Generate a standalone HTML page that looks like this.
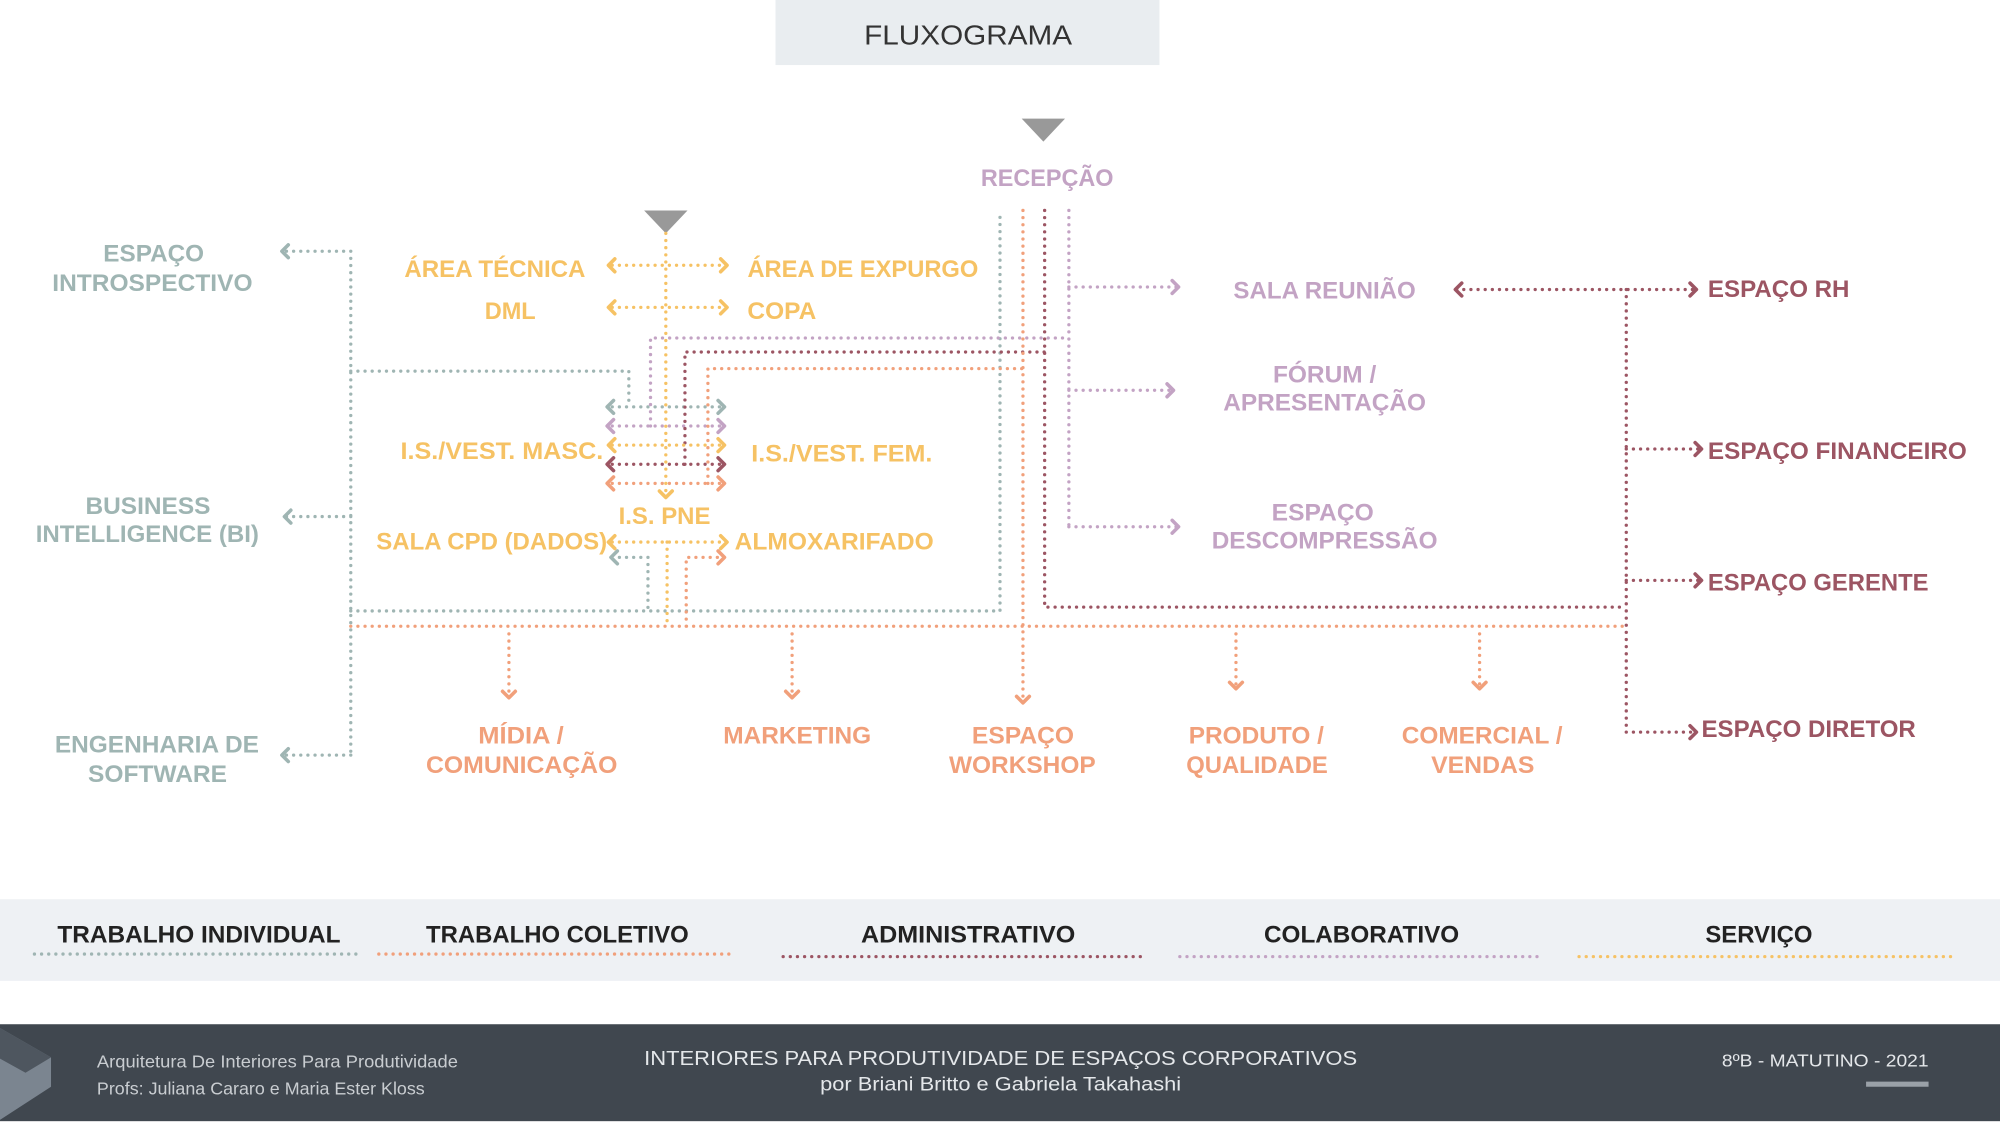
<!DOCTYPE html>
<html><head><meta charset="utf-8"><style>
html,body{margin:0;padding:0;background:#fff;}
svg{display:block}
text{font-family:"Liberation Sans",sans-serif;font-weight:bold;}
.d{fill:none;stroke-width:2.6;stroke-linecap:round;stroke-dasharray:0 5.6;}
.a{fill:none;stroke-width:2.8;stroke-linecap:round;stroke-linejoin:round;}
.t{stroke:#9fb5b3}.l{stroke:#c3a3c4}.m{stroke:#9c5563}.o{stroke:#f1a07b}.y{stroke:#f6c264}
.ft{fill:#9fb5b3}.fl{fill:#c3a3c4}.fm{fill:#9c5563}.fo{fill:#f1a07b}.fy{fill:#f6c264}
</style></head><body>
<svg width="2000" height="1125" viewBox="0 0 1568 882" preserveAspectRatio="none" xmlns="http://www.w3.org/2000/svg">
<rect width="1568" height="882" fill="#fff"/>
<rect x="608" y="0" width="301" height="51" fill="#e9edf0"/>
<text x="759" y="35" text-anchor="middle" font-size="22" fill="#333" style="font-weight:normal" textLength="163" lengthAdjust="spacingAndGlyphs">FLUXOGRAMA</text>
<polygon points="801,93 835,93 818,111" fill="#999"/>
<polygon points="505,165 539,165 522,183" fill="#999"/>

<path class="d t" d="M275,197 V592 M275,197 H222 M275,405 H224 M275,592 H222 M275,291 H493 V318 M275,479 H784 V165 M508,437 H481 M508,437 V479 M480,319 H566"/>
<path class="d l" d="M510,334 V265 H838 M838,165 V413 M838,225 H922 M838,306 H918 M838,413 H922 M480,334 H566"/>
<path class="d m" d="M537,364 V276 H819 M819,165 V476 H1275 M1275,227 V574 M1142,227 H1328 M1275,352 H1332 M1275,455 H1332 M1275,574 H1328 M480,364 H566"/>
<path class="d o" d="M555,379 V289 H802 M802,165 V548 M275,491 H1275 M399,497 V545 M621,497 V545 M969,497 V538 M1160,497 V538 M538,491 V437 H566 M480,379 H566"/>
<path class="d y" d="M522,183 V388 M523,425 V491 M480,208 H568 M480,241 H568 M480,349 H566 M480,425 H568"/>

<g class="a t"><polyline points="226,192 221,197 226,202"/><polyline points="228,400 223,405 228,410"/><polyline points="226,587 221,592 226,597"/><polyline points="481,314 476,319 481,324"/><polyline points="563,314 568,319 563,324"/><polyline points="484,432 479,437 484,442"/></g>
<g class="a l"><polyline points="481,329 476,334 481,339"/><polyline points="563,329 568,334 563,339"/><polyline points="919,220 924,225 919,230"/><polyline points="915,301 920,306 915,311"/><polyline points="919,408 924,413 919,418"/></g>
<g class="a m"><polyline points="481,359 476,364 481,369"/><polyline points="563,359 568,364 563,369"/><polyline points="1146,222 1141,227 1146,232"/><polyline points="1325,222 1330,227 1325,232"/><polyline points="1329,347 1334,352 1329,357"/><polyline points="1329,450 1334,455 1329,460"/><polyline points="1325,569 1330,574 1325,579"/></g>
<g class="a o"><polyline points="481,374 476,379 481,384"/><polyline points="563,374 568,379 563,384"/><polyline points="563,432 568,437 563,442"/><polyline points="797,546 802,551 807,546"/><polyline points="394,542 399,547 404,542"/><polyline points="616,542 621,547 626,542"/><polyline points="964,535 969,540 974,535"/><polyline points="1155,535 1160,540 1165,535"/></g>
<g class="a y"><polyline points="482,203 477,208 482,213"/><polyline points="565,203 570,208 565,213"/><polyline points="482,236 477,241 482,246"/><polyline points="565,236 570,241 565,246"/><polyline points="482,344 477,349 482,354"/><polyline points="563,344 568,349 563,354"/><polyline points="517,385 522,390 527,385"/><polyline points="482,420 477,425 482,430"/><polyline points="565,420 570,425 565,430"/></g>

<g font-size="19">
<text class="fl" x="769" y="146" textLength="104" lengthAdjust="spacingAndGlyphs">RECEPÇÃO</text>
<text class="ft" x="81" y="205" textLength="79" lengthAdjust="spacingAndGlyphs">ESPAÇO</text>
<text class="ft" x="41" y="228" textLength="157" lengthAdjust="spacingAndGlyphs">INTROSPECTIVO</text>
<text class="ft" x="67" y="403" textLength="98" lengthAdjust="spacingAndGlyphs">BUSINESS</text>
<text class="ft" x="28" y="425" textLength="175" lengthAdjust="spacingAndGlyphs">INTELLIGENCE (BI)</text>
<text class="ft" x="43" y="590" textLength="160" lengthAdjust="spacingAndGlyphs">ENGENHARIA DE</text>
<text class="ft" x="69" y="613" textLength="109" lengthAdjust="spacingAndGlyphs">SOFTWARE</text>

<text class="fy" x="317" y="217" textLength="142" lengthAdjust="spacingAndGlyphs">ÁREA TÉCNICA</text>
<text class="fy" x="380" y="250" textLength="40" lengthAdjust="spacingAndGlyphs">DML</text>
<text class="fy" x="586" y="217" textLength="181" lengthAdjust="spacingAndGlyphs">ÁREA DE EXPURGO</text>
<text class="fy" x="586" y="250" textLength="54" lengthAdjust="spacingAndGlyphs">COPA</text>
<text class="fy" x="314" y="360" textLength="159" lengthAdjust="spacingAndGlyphs">I.S./VEST. MASC.</text>
<text class="fy" x="589" y="362" textLength="142" lengthAdjust="spacingAndGlyphs">I.S./VEST. FEM.</text>
<text class="fy" x="485" y="411" textLength="72" lengthAdjust="spacingAndGlyphs">I.S. PNE</text>
<text class="fy" x="295" y="431" textLength="181" lengthAdjust="spacingAndGlyphs">SALA CPD (DADOS)</text>
<text class="fy" x="576" y="431" textLength="156" lengthAdjust="spacingAndGlyphs">ALMOXARIFADO</text>

<text class="fl" x="967" y="234" textLength="143" lengthAdjust="spacingAndGlyphs">SALA REUNIÃO</text>
<text class="fl" x="998" y="300" textLength="81" lengthAdjust="spacingAndGlyphs">FÓRUM /</text>
<text class="fl" x="959" y="322" textLength="159" lengthAdjust="spacingAndGlyphs">APRESENTAÇÃO</text>
<text class="fl" x="997" y="408" textLength="80" lengthAdjust="spacingAndGlyphs">ESPAÇO</text>
<text class="fl" x="950" y="430" textLength="177" lengthAdjust="spacingAndGlyphs">DESCOMPRESSÃO</text>

<text class="fm" x="1339" y="233" textLength="111" lengthAdjust="spacingAndGlyphs">ESPAÇO RH</text>
<text class="fm" x="1339" y="360" textLength="203" lengthAdjust="spacingAndGlyphs">ESPAÇO FINANCEIRO</text>
<text class="fm" x="1339" y="463" textLength="173" lengthAdjust="spacingAndGlyphs">ESPAÇO GERENTE</text>
<text class="fm" x="1334" y="578" textLength="168" lengthAdjust="spacingAndGlyphs">ESPAÇO DIRETOR</text>

<text class="fo" x="375" y="583" textLength="67" lengthAdjust="spacingAndGlyphs">MÍDIA /</text>
<text class="fo" x="334" y="606" textLength="150" lengthAdjust="spacingAndGlyphs">COMUNICAÇÃO</text>
<text class="fo" x="567" y="583" textLength="116" lengthAdjust="spacingAndGlyphs">MARKETING</text>
<text class="fo" x="762" y="583" textLength="80" lengthAdjust="spacingAndGlyphs">ESPAÇO</text>
<text class="fo" x="744" y="606" textLength="115" lengthAdjust="spacingAndGlyphs">WORKSHOP</text>
<text class="fo" x="932" y="583" textLength="106" lengthAdjust="spacingAndGlyphs">PRODUTO /</text>
<text class="fo" x="930" y="606" textLength="111" lengthAdjust="spacingAndGlyphs">QUALIDADE</text>
<text class="fo" x="1099" y="583" textLength="126" lengthAdjust="spacingAndGlyphs">COMERCIAL /</text>
<text class="fo" x="1122" y="606" textLength="81" lengthAdjust="spacingAndGlyphs">VENDAS</text>
</g>

<rect x="0" y="705" width="1568" height="64" fill="#eef1f4"/>
<g font-size="19" fill="#222">
<text x="45" y="739" textLength="222" lengthAdjust="spacingAndGlyphs">TRABALHO INDIVIDUAL</text>
<text x="334" y="739" textLength="206" lengthAdjust="spacingAndGlyphs">TRABALHO COLETIVO</text>
<text x="675" y="739" textLength="168" lengthAdjust="spacingAndGlyphs">ADMINISTRATIVO</text>
<text x="991" y="739" textLength="153" lengthAdjust="spacingAndGlyphs">COLABORATIVO</text>
<text x="1337" y="739" textLength="84" lengthAdjust="spacingAndGlyphs">SERVIÇO</text>
</g>
<path class="d t" d="M27,748 H279"/>
<path class="d o" d="M297,748 H575"/>
<path class="d m" d="M614,750 H899"/>
<path class="d l" d="M925,750 H1210"/>
<path class="d y" d="M1238,750 H1530"/>

<rect x="0" y="803" width="1568" height="76" fill="#40474f"/>
<polygon points="0,806 40,829 40,852 0,878" fill="#7b8590"/>
<polygon points="0,806 40,829 20,841 0,830" fill="#4e565f"/>
<g style="font-weight:normal" fill="#c9cdd1">
<text x="76" y="837" font-size="13.5" style="font-weight:normal" textLength="283" lengthAdjust="spacingAndGlyphs">Arquitetura De Interiores Para Produtividade</text>
<text x="76" y="858" font-size="13.5" style="font-weight:normal" textLength="257" lengthAdjust="spacingAndGlyphs">Profs: Juliana Cararo e Maria Ester Kloss</text>
<text x="505" y="835" font-size="16" fill="#e4e7ea" style="font-weight:normal" textLength="559" lengthAdjust="spacingAndGlyphs">INTERIORES PARA PRODUTIVIDADE DE ESPAÇOS CORPORATIVOS</text>
<text x="643" y="855" font-size="15" fill="#e4e7ea" style="font-weight:normal" textLength="283" lengthAdjust="spacingAndGlyphs">por Briani Britto e Gabriela Takahashi</text>
<text x="1350" y="836" font-size="14" fill="#e4e7ea" style="font-weight:normal" textLength="162" lengthAdjust="spacingAndGlyphs">8ºB - MATUTINO - 2021</text>
</g>
<rect x="1463" y="848" width="49" height="4" fill="#9aa1a8"/>
</svg>
</body></html>
